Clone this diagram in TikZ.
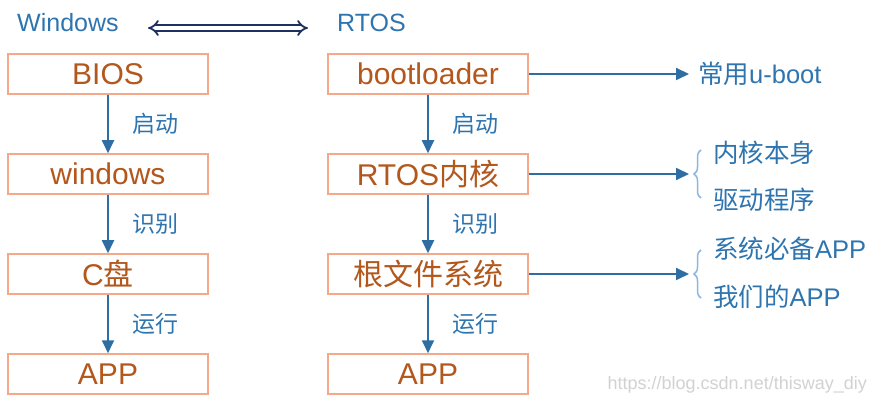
\documentclass[tikz,border=0pt]{standalone}
\usepackage{fontspec}
\setmainfont{Liberation Sans}
\newfontfamily\cjk{Noto Sans CJK SC}
\usetikzlibrary{arrows.meta,decorations.pathreplacing}
\definecolor{boxline}{HTML}{F5A98A}
\definecolor{boxtext}{HTML}{B3571C}
\definecolor{bluetext}{HTML}{2E75B0}
\definecolor{arrowc}{HTML}{2F6EA3}
\definecolor{bracec}{HTML}{8DB6E3}
\definecolor{navy}{HTML}{1F3060}
\definecolor{wm}{HTML}{D2D2D2}
\tikzset{
  stagebox/.style={draw=boxline, line width=1.5pt, minimum width=200pt, minimum height=40pt,
    inner sep=0pt, text=boxtext, font=\fontsize{30}{32}\selectfont},
  head/.style={text=bluetext, font=\fontsize{25}{27}\selectfont, anchor=west, inner sep=0pt},
  steplabel/.style={text=bluetext, font=\cjk\fontsize{23}{25}\selectfont, inner sep=0pt},
  sidetext/.style={text=bluetext, font=\fontsize{25.5}{27}\selectfont, anchor=west, inner sep=0pt},
  flow/.style={draw=arrowc, line width=1.8pt, -{Triangle[length=13pt,width=12pt]}},
  bracestyle/.style={draw=bracec, line width=1.5pt, decorate,
    decoration={brace, amplitude=7pt}},
}
\begin{document}
\begin{tikzpicture}[x=1pt, y=-1pt]
\useasboundingbox (0,0) rectangle (875,403);
\fill[white] (0,0) rectangle (875,403);

% headers
\node[head] (hwin) at (17,23) {Windows};
\node[head] (hrtos) at (337,23) {RTOS};
\coordinate (dl) at (148,28);
\coordinate (dr) at (308,28);
\draw[navy, line width=1.8pt, double=white, double distance=3.5pt, {Implies}-{Implies}] (dl) -- (dr);

% left column
\node[stagebox] (bios) at (108,74) {BIOS};
\node[stagebox] (win) at (108,174) {windows};
\node[stagebox] (cdisk) at (108,274) {C{\cjk 盘}};
\node[stagebox] (appl) at (108,374) {APP};
\draw[flow] (bios) -- node[steplabel, right=24pt] (l1) {启动} (win);
\draw[flow] (win) -- node[steplabel, right=24pt] (l2) {识别} (cdisk);
\draw[flow] (cdisk) -- node[steplabel, right=24pt] (l3) {运行} (appl);

% right column
\node[stagebox] (boot) at (428,74) {bootloader};
\node[stagebox] (kern) at (428,174) {RTOS{\cjk 内核}};
\node[stagebox] (rootfs) at (428,274) {\cjk 根文件系统};
\node[stagebox] (appr) at (428,374) {APP};
\draw[flow] (boot) -- node[steplabel, right=24pt] (r1) {启动} (kern);
\draw[flow] (kern) -- node[steplabel, right=24pt] (r2) {识别} (rootfs);
\draw[flow] (rootfs) -- node[steplabel, right=24pt] (r3) {运行} (appr);

% side notes
\coordinate (t1) at (689,74);
\coordinate (t2) at (689,174);
\coordinate (t3) at (689,274);
\draw[flow] (boot.east) -- (t1);
\draw[flow] (kern.east) -- (t2);
\draw[flow] (rootfs.east) -- (t3);
\node[sidetext] (uboot) at (698,74) {{\cjk 常用}u-boot};

\coordinate (b1b) at (701,198);
\coordinate (b1t) at (701,150);
\coordinate (b2b) at (701,298);
\coordinate (b2t) at (701,250);
\draw[bracestyle] (b1b) -- (b1t);
\draw[bracestyle] (b2b) -- (b2t);
\node[sidetext] (k1) at (713,153) {\cjk 内核本身};
\node[sidetext] (k2) at (713,200) {\cjk 驱动程序};
\node[sidetext] (a1) at (713,249) {{\cjk 系统必备}APP};
\node[sidetext] (a2) at (713,297) {{\cjk 我们的}APP};

% watermark
\node[text=wm, font=\fontsize{18}{20}\selectfont, anchor=east, inner sep=0pt] (wmark) at (867,385) {https://blog.csdn.net/thisway\_diy};
\end{tikzpicture}
\end{document}
